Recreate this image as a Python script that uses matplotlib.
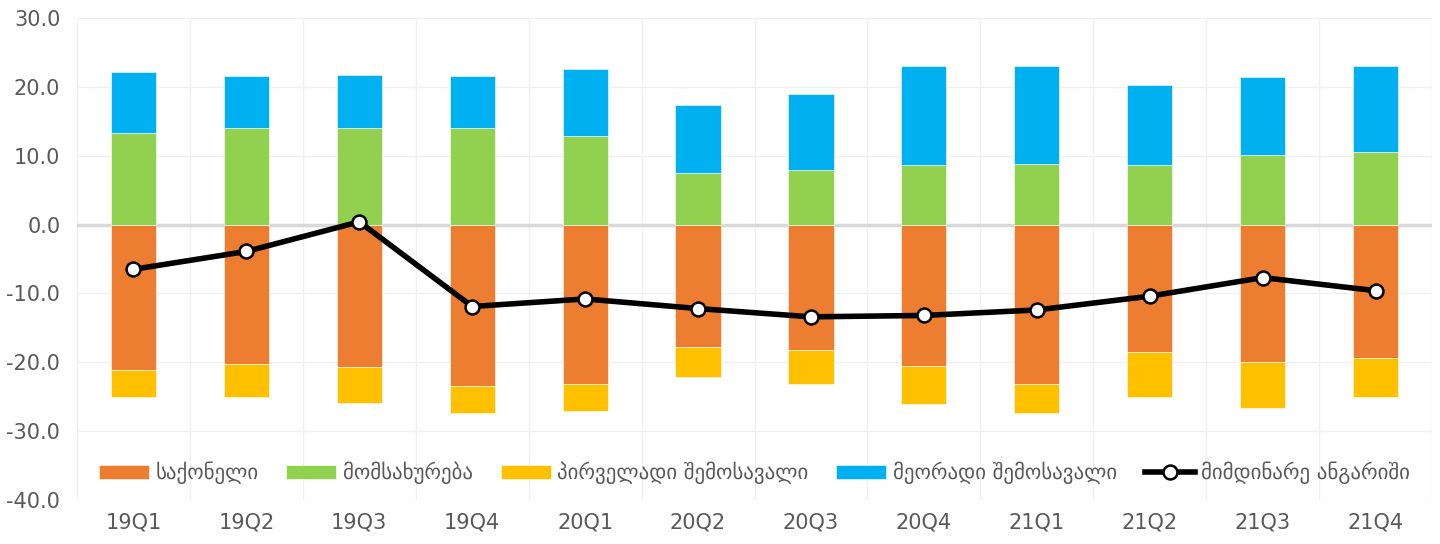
import numpy as np
import matplotlib
matplotlib.use("Agg")
import matplotlib.pyplot as plt
from matplotlib.ticker import MultipleLocator, FixedLocator

# DATA
QUARTERS = ["19Q1", "19Q2", "19Q3", "19Q4", "20Q1", "20Q2", "20Q3", "20Q4", "21Q1", "21Q2", "21Q3", "21Q4"]
GOODS = [-21.1, -20.3, -20.7, -23.4, -23.2, -17.8, -18.2, -20.6, -23.1, -18.5, -20.0, -19.4]
SERVICES = [13.3, 14.0, 14.0, 14.0, 12.8, 7.5, 7.9, 8.6, 8.8, 8.7, 10.1, 10.6]
PRIMARY_INCOME = [-4.0, -4.7, -5.2, -4.0, -3.9, -4.4, -4.9, -5.4, -4.2, -6.5, -6.7, -5.6]
SECONDARY_INCOME = [8.8, 7.6, 7.7, 7.6, 9.8, 9.8, 11.0, 14.5, 14.3, 11.6, 11.3, 12.4]
CURRENT_ACCOUNT = [-6.5, -3.9, 0.4, -11.9, -10.8, -12.2, -13.4, -13.2, -12.4, -10.4, -7.7, -9.6]

LABELS = ["საქონელი", "მომსახურება", "პირველადი შემოსავალი", "მეორადი შემოსავალი", "მიმდინარე ანგარიში"]

# STYLE
ORANGE = "#ed7d31"
GREEN = "#92d050"
YELLOW = "#ffc000"
BLUE = "#00b0f0"
TEXT = "#595959"
GRID = "#f0f0f0"

W, H, DPI = 1440, 544, 100
BAR_W = 0.4

plt.rcParams["font.family"] = ["DejaVu Sans"]

fig = plt.figure(figsize=(W / DPI, H / DPI), dpi=DPI, facecolor="white")
ax = fig.add_axes([77 / W, (H - 500) / H, (1432 - 77) / W, (500 - 18) / H])

x = np.arange(len(QUARTERS))
goods = np.array(GOODS)
services = np.array(SERVICES)

h_goods = ax.bar(x, goods, BAR_W, color=ORANGE, edgecolor="white", linewidth=0.4, label=LABELS[0], zorder=2)
h_serv = ax.bar(x, services, BAR_W, color=GREEN, edgecolor="white", linewidth=0.4, label=LABELS[1], zorder=2)
h_prim = ax.bar(x, PRIMARY_INCOME, BAR_W, bottom=goods, color=YELLOW, edgecolor="white", linewidth=0.4,
                label=LABELS[2], zorder=2)
h_sec = ax.bar(x, SECONDARY_INCOME, BAR_W, bottom=services, color=BLUE, edgecolor="white", linewidth=0.4,
               label=LABELS[3], zorder=2)
h_ca, = ax.plot(x, CURRENT_ACCOUNT, color="black", linewidth=4, marker="o", markersize=10,
                markerfacecolor="white", markeredgecolor="black", markeredgewidth=1.8, label=LABELS[4], zorder=4)

ax.axhline(0, color="#d9d9d9", linewidth=2.5, zorder=1)

# Axes
ax.set_xlim(-0.5, len(QUARTERS) - 0.5)
ax.set_ylim(-40, 30)
ax.yaxis.set_major_locator(MultipleLocator(10))
ax.set_yticklabels([f"{v:.1f}" for v in ax.get_yticks()])
ax.set_xticks(x)
ax.set_xticklabels(QUARTERS)
ax.xaxis.set_minor_locator(FixedLocator(np.arange(-0.5, len(QUARTERS), 1)))

ax.grid(True, axis="y", which="major", color=GRID, linewidth=1, zorder=0)
ax.grid(True, axis="x", which="minor", color=GRID, linewidth=1, zorder=0)
ax.set_axisbelow(True)
for s in ax.spines.values():
    s.set_visible(False)
ax.tick_params(axis="both", which="both", length=0, colors=TEXT, labelsize=15)
ax.tick_params(axis="y", pad=12)
ax.tick_params(axis="x", pad=9)

leg = ax.legend(handles=[h_goods, h_serv, h_prim, h_sec, h_ca], loc="center", bbox_to_anchor=(0.5, 0.056),
                ncol=5, frameon=False, fontsize=15, handlelength=2.4, handleheight=0.6,
                columnspacing=1.35, handletextpad=0.3)
for t in leg.get_texts():
    t.set_color(TEXT)

fig.savefig("out.png", dpi=DPI, facecolor="white")
